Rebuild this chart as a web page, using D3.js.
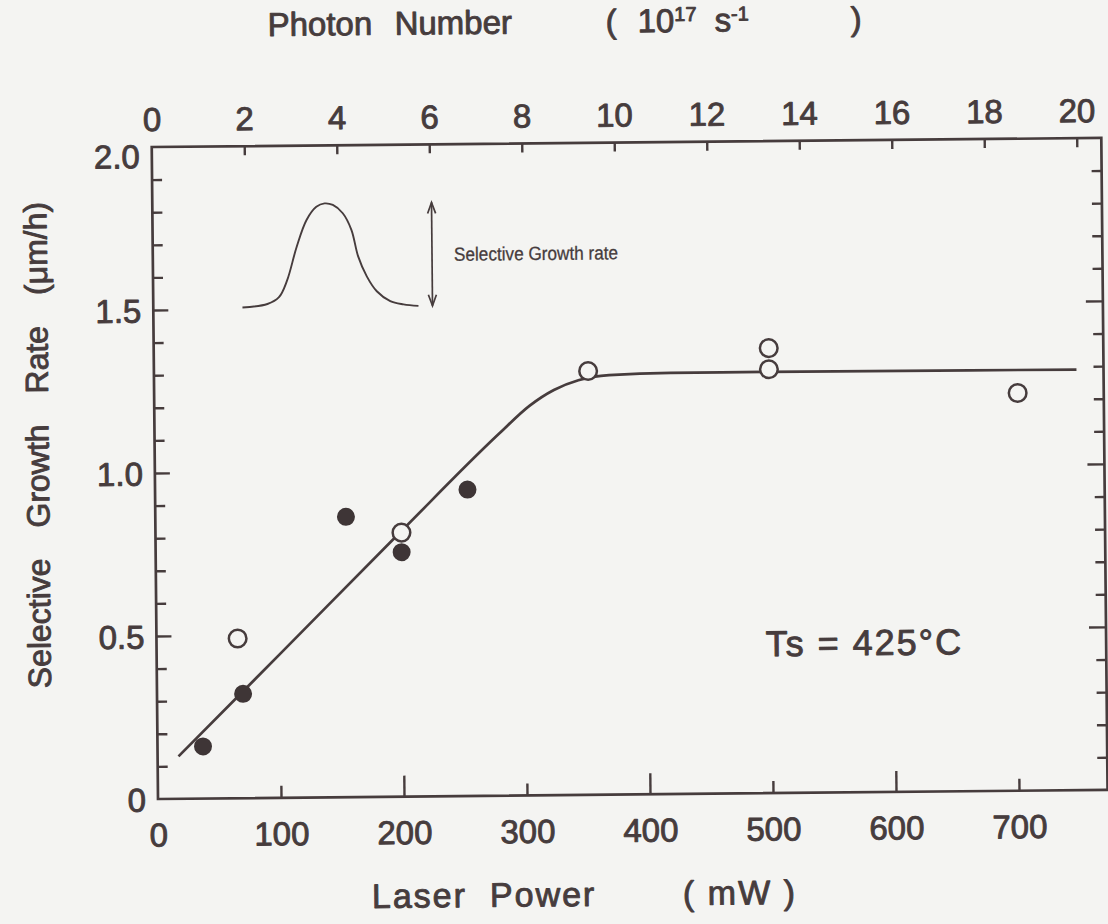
<!DOCTYPE html>
<html><head><meta charset="utf-8">
<script src="https://cdn.jsdelivr.net/npm/d3@7"></script>
<style>
html,body{margin:0;padding:0;background:#f4f4f2;}
svg{display:block;}
text{font-family:"Liberation Sans",Arimo,Arial,sans-serif;fill:#463c3d;}
text.heavy, .heavy text{stroke:#463c3d;stroke-width:0.9px;stroke-linejoin:round;}
</style></head><body>
<svg id="chart" width="1108" height="924"></svg>
<script>
// ---- data ----
const powerLabels = [0, 100, 200, 300, 400, 500, 600, 700];
const powerTicks = [100, 200, 300, 400, 500, 600, 700];
const photonLabels = [0, 2, 4, 6, 8, 10, 12, 14, 16, 18, 20];
const photonTicks = [2, 4, 6, 8, 10, 12, 14, 16, 18, 20];
const rateLabels = [0, 0.5, 1.0, 1.5, 2.0];
const rateTicks = [0.1,0.2,0.3,0.4,0.5,0.6,0.7,0.8,0.9,1.0,1.1,1.2,1.3,1.4,1.5,1.6,1.7,1.8,1.9];

const filledPower = [37, 70, 155, 200, 254];
const filledRate  = [0.16, 0.32, 0.86, 0.75, 0.94];
const openPower = [66, 200, 353, 500, 500, 702];
const openRate  = [0.49, 0.81, 1.30, 1.365, 1.30, 1.22];

const fitPower = [17, 100, 200, 280, 305, 325, 345, 370, 420, 500, 750];
const fitRate  = [0.13, 0.44, 0.815, 1.11, 1.195, 1.243, 1.272, 1.287, 1.292, 1.292, 1.29];

// inset schematic (relative units)
const insetU = [0, 0.142, 0.208, 0.255, 0.311, 0.368, 0.425, 0.472, 0.519, 0.575, 0.623, 0.660, 0.708, 0.764, 0.840, 0.915, 1.0];
const insetV = [0, 0.032, 0.097, 0.258, 0.581, 0.839, 0.968, 1.0, 0.984, 0.903, 0.742, 0.484, 0.290, 0.145, 0.048, 0.016, 0.0];
const insetPowerRange = [72.5, 215.6];
const insetRateRange = [1.505, 1.822];
const insetArrowPower = 227;

(function () {
const ink = "#463c3d";
const svg = d3.select("#chart");
const g = svg.append("g").attr("transform", "rotate(-0.55,158,799)");

const x = d3.scaleLinear().domain([0, 772]).range([158, 1107.6]);
const y = d3.scaleLinear().domain([0, 2]).range([799, 147]);
const xTop = d3.scaleLinear().domain([0, 20]).range([x(0), x(752)]);

// frame
g.append("rect").attr("x", x(0)).attr("y", y(2))
  .attr("width", x(772) - x(0)).attr("height", y(0) - y(2))
  .attr("fill", "none").attr("stroke", ink).attr("stroke-width", 2.7);

function styleAxis(sel, fs) {
  sel.attr("font-family", null).attr("font-size", fs);
  sel.select(".domain").remove();
  sel.selectAll(".tick line").attr("stroke", ink).attr("stroke-width", 2.4);
  sel.selectAll(".tick text").attr("fill", ink);
}
const isMajorRate = d => Math.abs(d * 2 - Math.round(d * 2)) < 1e-6;

// bottom ticks
const bT = g.append("g").attr("transform", `translate(0,${y(0)})`)
  .call(d3.axisBottom(x).tickValues(powerTicks).tickSizeInner(-12).tickSizeOuter(0).tickFormat(""));
styleAxis(bT, 10);
bT.selectAll(".tick line").attr("y2", d => d % 200 === 0 ? -21 : -12);
// bottom labels
const bL = g.append("g").attr("class", "heavy").attr("transform", `translate(0,${y(0)})`)
  .call(d3.axisBottom(x).tickValues(powerLabels).tickSize(0).tickPadding(24).tickFormat(d3.format("d")));
styleAxis(bL, 33);
bL.selectAll(".tick line").remove();

// top ticks
const tT = g.append("g").attr("transform", `translate(0,${y(2)})`)
  .call(d3.axisTop(xTop).tickValues(photonTicks).tickSizeInner(-9).tickSizeOuter(0).tickFormat(""));
styleAxis(tT, 10);
const tL = g.append("g").attr("class", "heavy").attr("transform", `translate(0,${y(2)})`)
  .call(d3.axisTop(xTop).tickValues(photonLabels).tickSize(0).tickPadding(16).tickFormat(d3.format("d")));
styleAxis(tL, 33);
tL.selectAll(".tick line").remove();

// left ticks
const lT = g.append("g").attr("transform", `translate(${x(0)},0)`)
  .call(d3.axisLeft(y).tickValues(rateTicks).tickSizeInner(-10).tickSizeOuter(0).tickFormat(""));
styleAxis(lT, 10);
lT.selectAll(".tick line").attr("x2", d => isMajorRate(d) ? 15 : 10);
const lL = g.append("g").attr("class", "heavy").attr("transform", `translate(${x(0)},0)`)
  .call(d3.axisLeft(y).tickValues(rateLabels).tickSize(0).tickPadding(12)
    .tickFormat(d => d === 0 ? "0" : d3.format(".1f")(d)));
styleAxis(lL, 33);
lL.selectAll(".tick line").remove();
lL.selectAll(".tick text").attr("dy", d => d === 2 ? "0.62em" : "0.36em");

// right ticks
const rT = g.append("g").attr("transform", `translate(${x(772)},0)`)
  .call(d3.axisRight(y).tickValues(rateTicks).tickSizeInner(-10).tickSizeOuter(0).tickFormat(""));
styleAxis(rT, 10);
rT.selectAll(".tick line").attr("x2", d => isMajorRate(d) ? -17 : -10);

// fit curve
const fitData = fitPower.map((p, i) => [p, fitRate[i]]);
g.append("path").datum(fitData)
  .attr("d", d3.line().x(d => x(d[0])).y(d => y(d[1])).curve(d3.curveMonotoneX))
  .attr("fill", "none").attr("stroke", ink).attr("stroke-width", 2.7);

// points
const filled = filledPower.map((p, i) => [p, filledRate[i]]);
const open = openPower.map((p, i) => [p, openRate[i]]);
g.selectAll("circle.f").data(filled).join("circle").attr("class", "f")
  .attr("cx", d => x(d[0])).attr("cy", d => y(d[1])).attr("r", 9).attr("fill", "#3e3536");
g.selectAll("circle.o").data(open).join("circle").attr("class", "o")
  .attr("cx", d => x(d[0])).attr("cy", d => y(d[1])).attr("r", 8.8)
  .attr("fill", "#f4f4f2").attr("stroke", ink).attr("stroke-width", 2.5);

// inset schematic
const iu = d3.scaleLinear().domain([0, 1]).range([x(insetPowerRange[0]), x(insetPowerRange[1])]);
const iv = d3.scaleLinear().domain([0, 1]).range([y(insetRateRange[0]), y(insetRateRange[1])]);
const insetData = insetU.map((u, i) => [u, insetV[i]]);
g.append("path").datum(insetData)
  .attr("d", d3.line().x(d => iu(d[0])).y(d => iv(d[1])).curve(d3.curveCatmullRom))
  .attr("fill", "none").attr("stroke", ink).attr("stroke-width", 1.9);
const ax = x(insetArrowPower);
const ay1 = y(insetRateRange[1]), ay0 = y(insetRateRange[0]);
g.append("line").attr("x1", ax).attr("x2", ax).attr("y1", ay1).attr("y2", ay0)
  .attr("stroke", ink).attr("stroke-width", 1.7);
g.append("path").attr("d", `M${ax-4},${ay1+11}L${ax},${ay1}L${ax+4},${ay1+11}`)
  .attr("fill", "none").attr("stroke", ink).attr("stroke-width", 1.7);
g.append("path").attr("d", `M${ax-4},${ay0-11}L${ax},${ay0}L${ax+4},${ay0-11}`)
  .attr("fill", "none").attr("stroke", ink).attr("stroke-width", 1.7);
g.append("text").attr("x", ax + 22).attr("y", (ay0 + ay1) / 2 + 7)
  .attr("font-size", 19).attr("textLength", 164).attr("lengthAdjust", "spacingAndGlyphs")
  .attr("stroke", ink).attr("stroke-width", 0.3)
  .text("Selective Growth rate");

// Ts label
g.append("text").attr("class", "heavy").attr("x", 767).attr("y", 662).attr("font-size", 36)
  .attr("letter-spacing", 2).text("Ts = 425°C");

// axis titles
const topTitle = g.append("text").attr("class", "heavy").attr("y", 37).attr("font-size", 33);
topTitle.append("tspan").attr("x", 275).text("Photon");
topTitle.append("tspan").attr("x", 402).text("Number");
topTitle.append("tspan").attr("x", 613).text("(");
topTitle.append("tspan").attr("x", 645).text("10");
topTitle.append("tspan").attr("dy", -11).attr("font-size", 20).text("17");
topTitle.append("tspan").attr("x", 722).attr("dy", 11).text("s");
topTitle.append("tspan").attr("dy", -11).attr("font-size", 20).text("-1");
topTitle.append("tspan").attr("x", 858).attr("dy", 11).text(")");

const botTitle = g.append("text").attr("class", "heavy").attr("y", 910).attr("font-size", 34).attr("letter-spacing", 2);
botTitle.append("tspan").attr("x", 371).text("Laser");
botTitle.append("tspan").attr("x", 489).text("Power");
botTitle.append("tspan").attr("x", 682).text("( mW )");

g.append("text").attr("class", "heavy").attr("transform", "translate(41,444) rotate(-90)")
  .attr("text-anchor", "middle").attr("dominant-baseline", "central")
  .attr("font-size", 32).attr("word-spacing", 22)
  .text("Selective Growth Rate (μm/h)");
})();
</script>
</body></html>
